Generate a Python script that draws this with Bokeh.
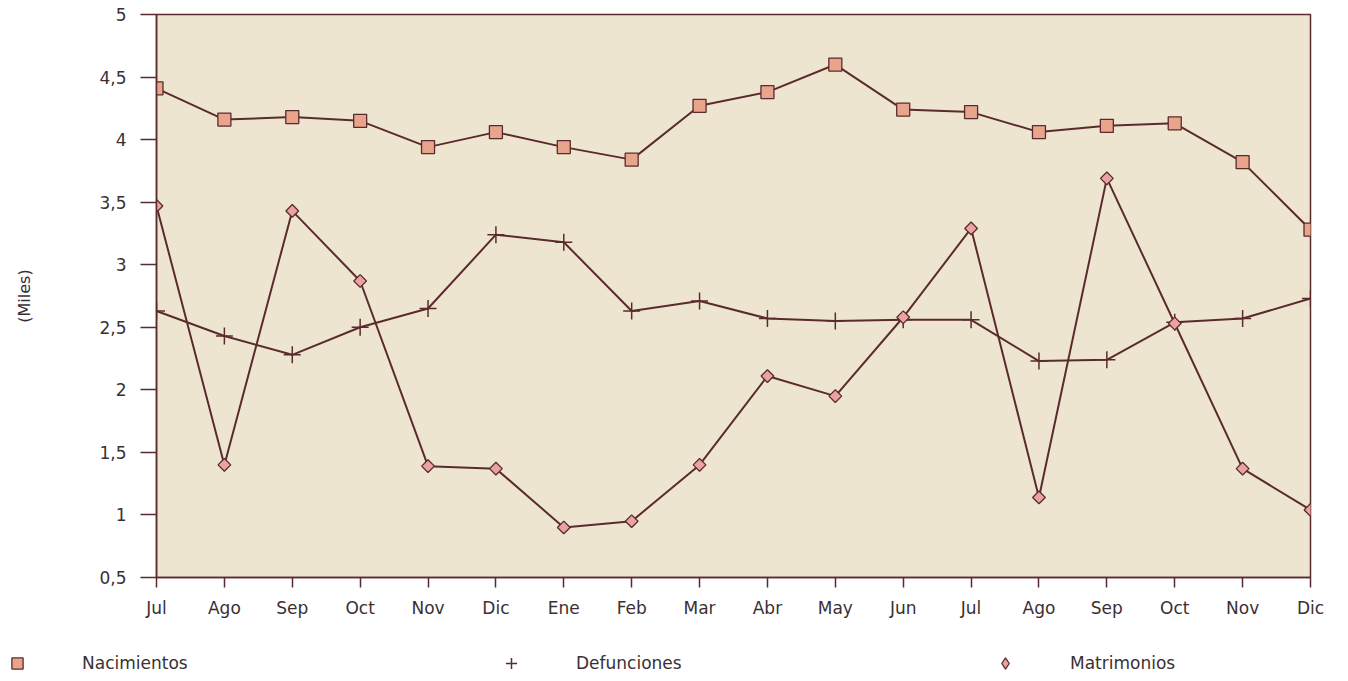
import math
from bokeh.plotting import figure
from bokeh.models import Range1d, FixedTicker, Legend, LegendItem, ColumnDataSource
from bokeh.embed import file_html
from bokeh.resources import INLINE

months = ["Jul", "Ago", "Sep", "Oct", "Nov", "Dic", "Ene", "Feb", "Mar",
          "Abr", "May", "Jun", "Jul", "Ago", "Sep", "Oct", "Nov", "Dic"]
nacimientos = [4.41, 4.16, 4.18, 4.15, 3.94, 4.06, 3.94, 3.84, 4.27,
               4.38, 4.60, 4.24, 4.22, 4.06, 4.11, 4.13, 3.82, 3.28]
defunciones = [2.63, 2.43, 2.28, 2.50, 2.65, 3.24, 3.18, 2.63, 2.71,
               2.57, 2.55, 2.56, 2.56, 2.23, 2.24, 2.54, 2.57, 2.73]
matrimonios = [3.47, 1.40, 3.43, 2.87, 1.39, 1.37, 0.90, 0.95, 1.40,
               2.11, 1.95, 2.58, 3.29, 1.14, 3.69, 2.53, 1.37, 1.04]
y_ticks = [0.5, 1, 1.5, 2, 2.5, 3, 3.5, 4, 4.5, 5]
y_tick_labels = ["0,5", "1", "1,5", "2", "2,5", "3", "3,5", "4", "4,5", "5"]
series_names = ["Nacimientos", "Defunciones", "Matrimonios"]

x = list(range(len(months)))
src = ColumnDataSource(dict(x=x, nac=nacimientos, dfn=defunciones, mat=matrimonios))

LINE = "#5a2b2e"
TEXT = "#3a3034"
FONT = "DejaVu Sans"
STYLES = [dict(marker="square", fill_color="#e9a48c", line_color=LINE, line_width=1.3),
          dict(marker="cross", line_color=LINE, line_width=1.5),
          dict(marker="square", angle=math.pi / 4, fill_color="#eaa2a2",
               line_color=LINE, line_width=1.3)]
LEG_STYLES = [STYLES[0], STYLES[1],
              dict(marker="diamond", fill_color="#eaa2a2", line_color=LINE,
                   line_width=1.3)]
SIZES = [13, 17, 9]
COLS = ["nac", "dfn", "mat"]

p = figure(width=1340, height=631, output_backend="svg", toolbar_location=None,
           x_range=Range1d(0, len(months) - 1), y_range=Range1d(0.5, 5),
           min_border_left=156, min_border_right=30, min_border_top=14,
           min_border_bottom=54)
p.background_fill_color = "#eee5d0"
p.border_fill_color = "white"
p.outline_line_color = LINE
p.outline_line_width = 1.5
p.xgrid.visible = False
p.ygrid.visible = False

# axes
p.xaxis.ticker = FixedTicker(ticks=x)
p.xaxis.major_label_overrides = {i: m for i, m in enumerate(months)}
p.yaxis.ticker = FixedTicker(ticks=y_ticks)
p.yaxis.major_label_overrides = {v: l for v, l in zip(y_ticks, y_tick_labels)}
for ax in (p.xaxis, p.yaxis):
    ax.axis_line_color = LINE
    ax.axis_line_width = 1.5
    ax.major_tick_line_color = LINE
    ax.major_tick_line_width = 1.5
    ax.major_tick_in = 0
    ax.minor_tick_line_color = None
    ax.major_label_text_font = FONT
    ax.major_label_text_font_size = "17px"
    ax.major_label_text_color = TEXT
p.yaxis.major_tick_out = 16
p.yaxis.major_label_standoff = 14
p.xaxis.major_tick_out = 10
p.xaxis.major_label_standoff = 10
p.yaxis.axis_label = "(Miles)"
p.yaxis.axis_label_text_font = FONT
p.yaxis.axis_label_text_font_style = "normal"
p.yaxis.axis_label_text_font_size = "16px"
p.yaxis.axis_label_text_color = TEXT
p.yaxis.axis_label_standoff = 62

# series
for col, st, sz in zip(COLS, STYLES, SIZES):
    p.line("x", col, source=src, line_color=LINE, line_width=2)
    p.scatter("x", col, source=src, size=sz, **st)

# legend strip (full page width) below the chart; its ranges show no data,
# so only the legend swatches are drawn
lg = figure(width=1340, height=48, output_backend="svg", toolbar_location=None,
            x_axis_location=None, y_axis_location=None,
            x_range=Range1d(-2, -1), y_range=Range1d(-2, -1),
            min_border=0, outline_line_color=None)
lg.background_fill_color = "white"
lg.border_fill_color = "white"
lg.xgrid.visible = False
lg.ygrid.visible = False
items = []
for name, col, st in zip(series_names, COLS, LEG_STYLES):
    r = lg.scatter("x", col, source=src, **st)
    items.append(LegendItem(label=name, renderers=[r], index=0))
legend = Legend(items=items, orientation="horizontal", location=(3, 2),
                glyph_width=28, glyph_height=28, label_standoff=51,
                label_width=400, spacing=15, padding=0, margin=0,
                border_line_color=None, background_fill_alpha=0,
                label_text_font=FONT, label_text_font_size="17px",
                label_text_color=TEXT)
lg.add_layout(legend, "center")

open("out.html", "w").write(file_html([p, lg], INLINE))
